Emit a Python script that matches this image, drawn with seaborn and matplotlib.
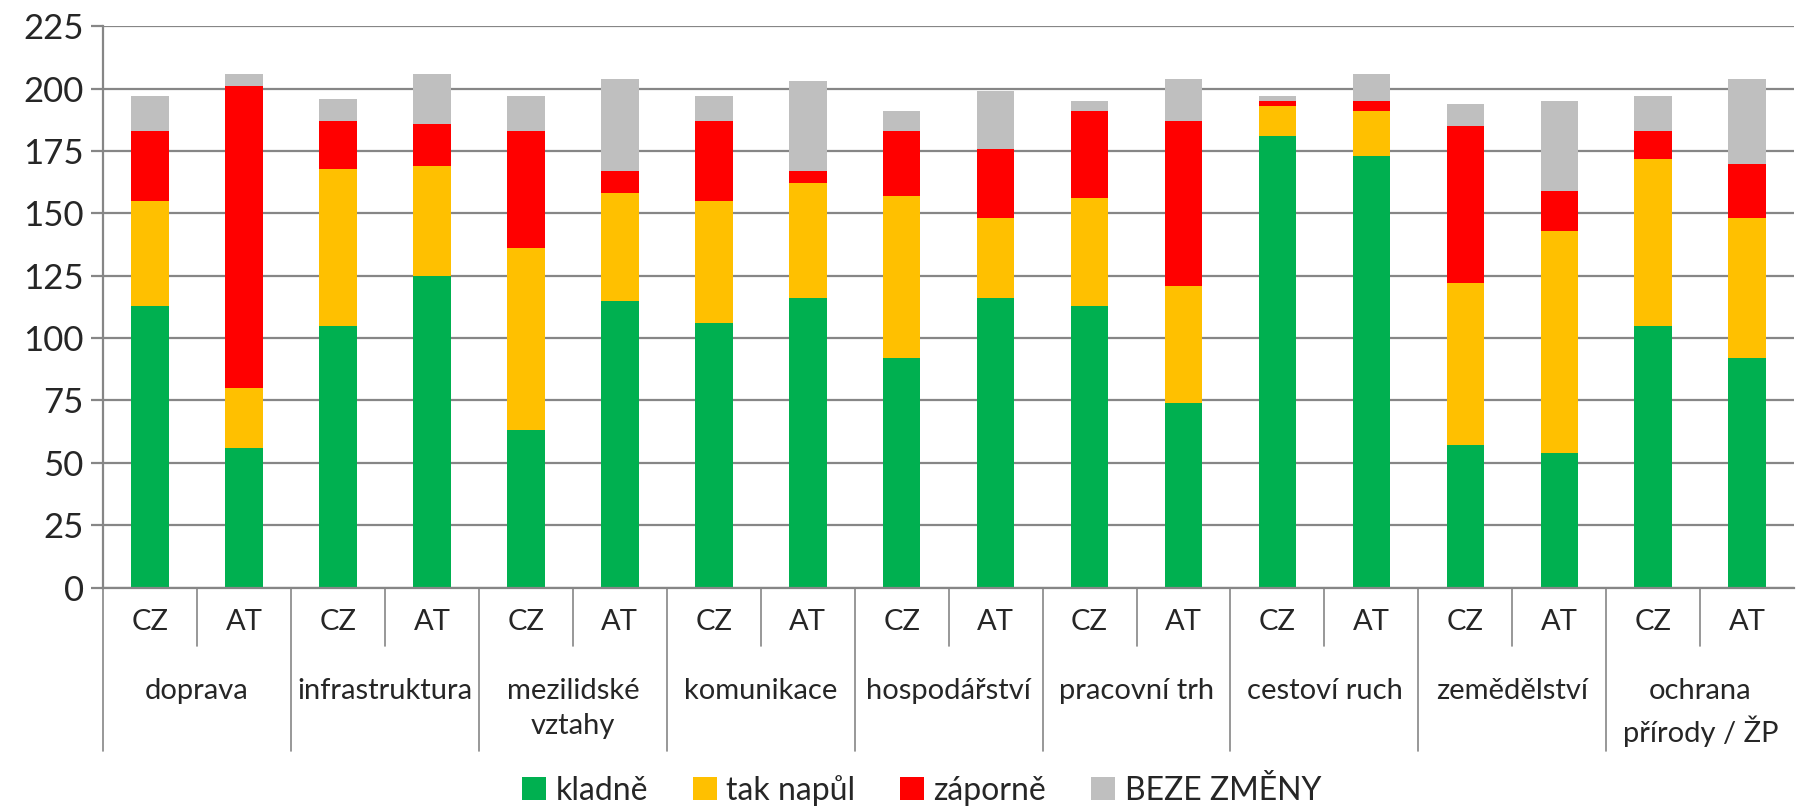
import matplotlib
matplotlib.use("Agg")
import matplotlib.pyplot as plt
import matplotlib.transforms as mtransforms
from matplotlib.patches import Patch
import seaborn as sns
import pandas as pd
import numpy as np

# categories (each has a CZ and an AT bar)
categories = ["doprava", "infrastruktura", "mezilidské\nvztahy", "komunikace",
              "hospodářství", "pracovní trh", "cestoví ruch", "zemědělství",
              "ochrana\npřírody / ŽP"]
countries = ["CZ", "AT"]

# segment values, bar order: doprava CZ, doprava AT, infrastruktura CZ, ...
kladne = [113, 56, 105, 125, 63, 115, 106, 116, 92, 116, 113, 74, 181, 173, 57, 54, 105, 92]
napul = [42, 24, 63, 44, 73, 43, 49, 46, 65, 32, 43, 47, 12, 18, 65, 89, 67, 56]
zaporne = [28, 121, 19, 17, 47, 9, 32, 5, 26, 28, 35, 66, 2, 4, 63, 16, 11, 22]
beze = [14, 5, 9, 20, 14, 37, 10, 36, 8, 23, 4, 17, 2, 11, 9, 36, 14, 34]

series_names = ["kladně", "tak napůl", "záporně", "BEZE ZMĚNY"]
colors = ["#00B050", "#FFC000", "#FF0000", "#BFBFBF"]

sns.set_theme(style="white")
plt.rcParams["font.family"] = ["Lato", "DejaVu Sans"]

n = len(kladne)
df = pd.DataFrame({
    "pos": list(range(n)),
    "kladne": kladne,
    "napul": napul,
    "zaporne": zaporne,
    "beze": beze,
})
# cumulative tops, drawn from the tallest down
df["c1"] = df["kladne"]
df["c2"] = df["c1"] + df["napul"]
df["c3"] = df["c2"] + df["zaporne"]
df["c4"] = df["c3"] + df["beze"]

fig = plt.figure(figsize=(17.96, 8.10), dpi=100)
ax = fig.add_axes([0.0574, 0.2746, 0.9416, 0.6929])

grid_col = "#868686"
ax.set_axisbelow(True)
for col, c in zip(["c4", "c3", "c2", "c1"], colors[::-1]):
    sns.barplot(data=df, x="pos", y=col, color=c, width=0.4, ax=ax,
                saturation=1, errorbar=None, linewidth=0)

ax.set_ylim(0, 225)
ax.set_xlim(-0.5, n - 0.5)
ax.set_yticks(np.arange(0, 226, 25))
ax.yaxis.grid(True, color=grid_col, lw=1.6)
ax.tick_params(axis="y", labelsize=25, length=9, width=1.6, color=grid_col,
               left=True, pad=5)
ax.set_xticks([])
ax.set_xlabel("")
ax.set_ylabel("")
for s in ["top", "right"]:
    ax.spines[s].set_visible(False)
for s in ["left", "bottom"]:
    ax.spines[s].set_color(grid_col)
    ax.spines[s].set_linewidth(1.6)

# multi-level category axis
trans = mtransforms.blended_transform_factory(ax.transData, ax.transAxes)
inner_bottom = -0.104
outer_bottom = -0.292
for i in range(n):
    ax.text(i, -0.062, countries[i % 2], transform=trans, ha="center",
            va="center", fontsize=21)
for i in range(n):
    bottom = outer_bottom if i % 2 == 0 else inner_bottom
    ax.plot([i - 0.5, i - 0.5], [0, bottom], transform=trans,
            color=grid_col, lw=1.2, clip_on=False)
for j, cat in enumerate(categories):
    ax.text(2 * j + 0.5, -0.162, cat, transform=trans, ha="center",
            va="top", fontsize=21, linespacing=1.4)

handles = [Patch(facecolor=c, edgecolor="none") for c in colors]
fig.legend(handles, series_names, loc="lower center", ncol=4,
           bbox_to_anchor=(0.513, -0.03), frameon=False, fontsize=23,
           handlelength=0.75, handleheight=0.75, handletextpad=0.3,
           columnspacing=1.4)

fig.savefig("out.png", dpi=100)
